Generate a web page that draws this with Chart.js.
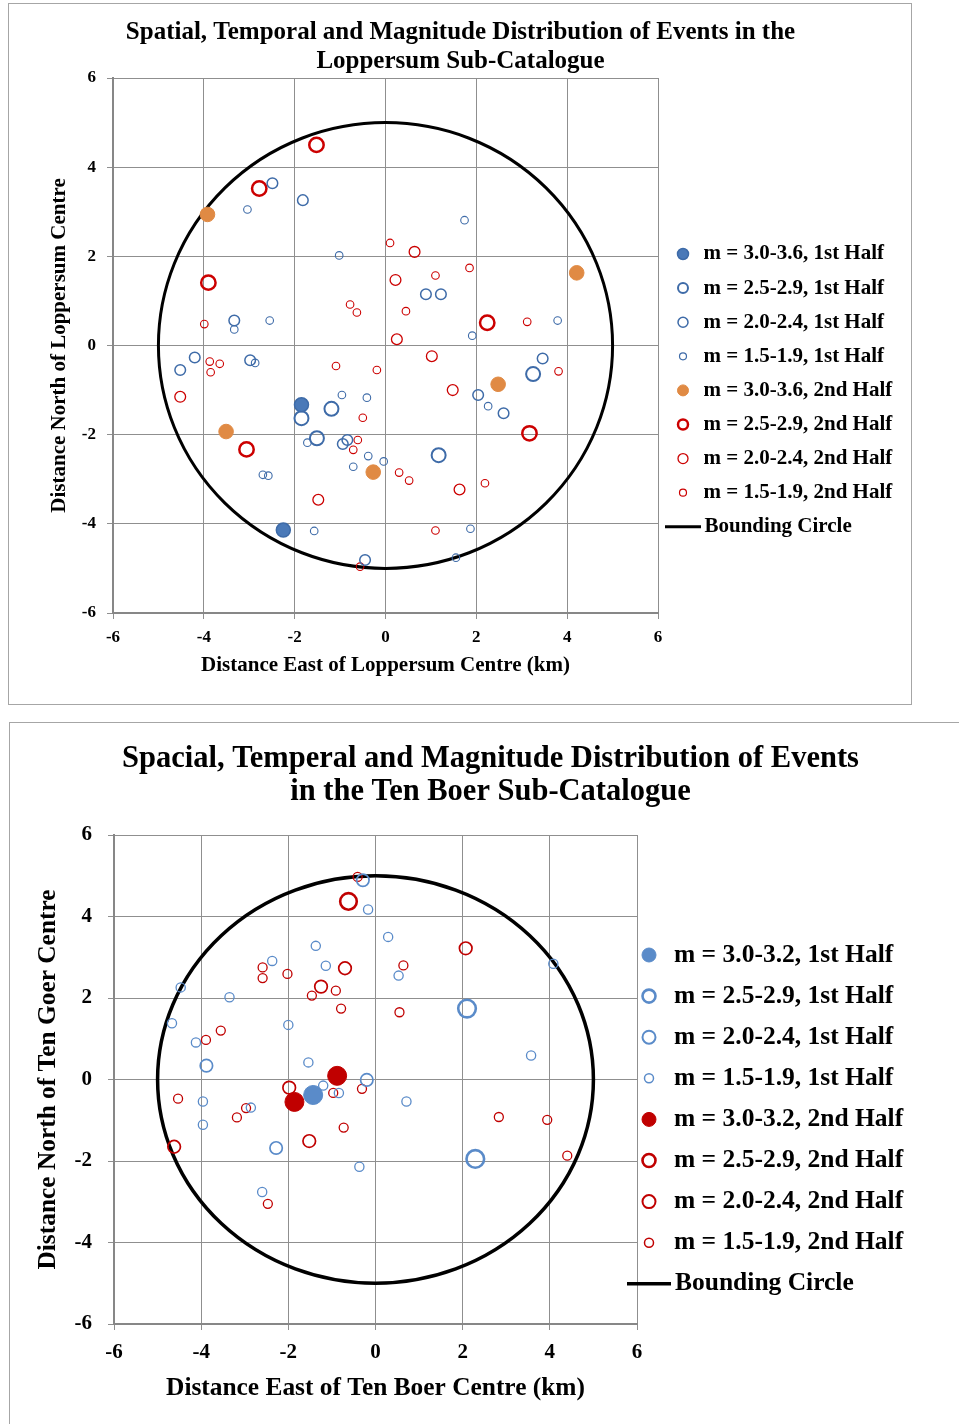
<!DOCTYPE html>
<html>
<head>
<meta charset="utf-8">
<script src="https://cdn.jsdelivr.net/npm/chart.js@4.4.1/dist/chart.umd.min.js"></script>
<style>
  body { margin: 0; width: 959px; height: 1424px; overflow: hidden; background: #fff; position: relative; }
  .frame { position: absolute; border: 1px solid #a6a6a6; box-sizing: border-box; }
  canvas { position: absolute; }
</style>
</head>
<body>
<div class="frame" style="left:8px;top:3px;width:904px;height:702px"></div>
<div class="frame" style="left:9px;top:722px;width:960px;height:720px"></div>
<canvas id="lop" width="901" height="699" style="left:9px;top:4px"></canvas>
<canvas id="tb" width="949" height="701" style="left:10px;top:723px"></canvas>
<script>
const SERIF = '"Liberation Serif", "Times New Roman", serif';
const CIRCLE_R = 5;           // bounding circle radius (km)
const TICK_MIN = -6, TICK_MAX = 6, TICK_STEP = 2;

// --- Loppersum sub-catalogue [east km, north km] ---
const lopTitle = ['Spatial, Temporal and Magnitude Distribution of Events in the', 'Loppersum Sub-Catalogue'];
const lopLabels = [
  'm = 3.0-3.6, 1st Half', 'm = 2.5-2.9, 1st Half', 'm = 2.0-2.4, 1st Half', 'm = 1.5-1.9, 1st Half',
  'm = 3.0-3.6, 2nd Half', 'm = 2.5-2.9, 2nd Half', 'm = 2.0-2.4, 2nd Half', 'm = 1.5-1.9, 2nd Half',
];
const lopBig1 = [[-1.85, -1.33], [-2.25, -4.14]];
const lopMid1 = [[-1.85, -1.63], [-1.19, -1.42], [-1.51, -2.08], [3.25, -0.64], [1.17, -2.46]];
const lopLow1 = [[-2.49, 3.64], [-1.82, 3.26], [-3.33, 0.56], [-4.52, -0.55], [-4.2, -0.27], [-2.98, -0.33],
  [0.89, 1.15], [1.22, 1.15], [-0.94, -2.21], [-0.84, -2.12], [3.46, -0.29], [2.04, -1.11], [2.6, -1.52], [-0.45, -4.81]];
const lopMin1 = [[-3.04, 3.05], [-1.02, 2.02], [1.74, 2.81], [-3.33, 0.36], [-2.55, 0.56], [1.91, 0.22], [3.79, 0.56],
  [-2.87, -0.39], [-0.96, -1.11], [-0.41, -1.17], [-1.72, -2.18], [-0.38, -2.48], [-0.04, -2.6], [-0.71, -2.72],
  [-2.7, -2.9], [-2.58, -2.92], [-1.57, -4.16], [2.26, -1.36], [1.87, -4.11], [1.55, -4.76]];
const lopBig2 = [[-3.92, 2.94], [4.21, 1.63], [2.48, -0.87], [-3.51, -1.93], [-0.27, -2.84]];
const lopMid2 = [[-1.52, 4.5], [-2.78, 3.52], [-3.9, 1.41], [2.24, 0.51], [3.17, -1.97], [-3.06, -2.33]];
const lopLow2 = [[0.64, 2.1], [0.22, 1.47], [0.25, 0.14], [1.02, -0.24], [1.48, -1.0], [1.63, -3.23], [-4.52, -1.15], [-1.48, -3.46]];
const lopMin2 = [[0.1, 2.3], [1.1, 1.57], [1.85, 1.74], [0.45, 0.77], [3.12, 0.53], [3.81, -0.58], [-3.99, 0.48],
  [-0.78, 0.92], [-0.63, 0.74], [-3.87, -0.36], [-3.65, -0.41], [-3.85, -0.6], [-1.09, -0.46], [-0.19, -0.55],
  [-0.5, -1.62], [-0.61, -2.12], [-0.71, -2.34], [0.3, -2.85], [0.52, -3.03], [2.19, -3.09], [1.1, -4.15], [-0.56, -4.96]];

// --- Ten Boer sub-catalogue ---
const tbTitle = ['Spacial, Temperal and Magnitude Distribution of Events', 'in the Ten Boer Sub-Catalogue'];
const tbLabels = [
  'm = 3.0-3.2, 1st Half', 'm = 2.5-2.9, 1st Half', 'm = 2.0-2.4, 1st Half', 'm = 1.5-1.9, 1st Half',
  'm = 3.0-3.2, 2nd Half', 'm = 2.5-2.9, 2nd Half', 'm = 2.0-2.4, 2nd Half', 'm = 1.5-1.9, 2nd Half',
];
const tbBig1 = [[-1.43, -0.38]];
const tbMid1 = [[2.1, 1.74], [2.29, -1.95]];
const tbLow1 = [[-0.29, 4.89], [-3.88, 0.34], [-0.2, -0.01], [-2.28, -1.68]];
const tbMin1 = [[-0.17, 4.17], [-1.37, 3.28], [-2.37, 2.91], [-1.14, 2.79], [0.29, 3.5], [0.53, 2.55], [4.08, 2.84],
  [-4.47, 2.26], [-3.35, 2.02], [-4.67, 1.38], [-2.0, 1.34], [-4.12, 0.91], [-1.54, 0.42], [3.57, 0.59],
  [-1.2, -0.15], [-0.84, -0.33], [-3.96, -0.54], [-3.96, -1.11], [-2.86, -0.69], [0.71, -0.54], [-0.37, -2.14], [-2.6, -2.76]];
const tbBig2 = [[-0.88, 0.09], [-1.86, -0.55]];
const tbMid2 = [[-0.62, 4.37]];
const tbLow2 = [[2.07, 3.22], [-0.7, 2.73], [-1.25, 2.28], [-1.98, -0.2], [-4.62, -1.65], [-1.52, -1.51]];
const tbMin2 = [[-0.41, 4.97], [-2.59, 2.75], [-2.59, 2.49], [-2.02, 2.59], [-1.46, 2.06], [-0.91, 2.18], [-0.79, 1.74],
  [0.64, 2.8], [0.55, 1.65], [-3.55, 1.2], [-3.89, 0.97], [-0.97, -0.33], [-0.31, -0.23], [-4.53, -0.47],
  [-3.18, -0.93], [-2.97, -0.7], [-0.73, -1.18], [-2.47, -3.05], [2.83, -0.92], [3.94, -0.99], [4.4, -1.87]];

// --- bounding circle + title + legend ---
const decor = {
  id: 'decor',
  beforeDatasetsDraw(chart, args, o) {
    const { ctx, scales: { x, y } } = chart;
    const cx = x.getPixelForValue(0), cy = y.getPixelForValue(0);
    const rx = x.getPixelForValue(CIRCLE_R) - cx, ry = cy - y.getPixelForValue(CIRCLE_R);
    ctx.save();
    ctx.beginPath();
    ctx.ellipse(cx, cy, rx, ry, 0, 0, Math.PI * 2);
    ctx.lineWidth = o.circleWidth;
    ctx.strokeStyle = '#000';
    ctx.stroke();
    ctx.restore();
  },
  afterDraw(chart, args, o) {
    const { ctx } = chart;
    ctx.save();
    ctx.fillStyle = '#000';
    ctx.textAlign = 'center';
    ctx.textBaseline = 'middle';
    ctx.font = `bold ${o.titleSize}px ${SERIF}`;
    o.title.forEach((t, i) => ctx.fillText(t, o.titleX, o.titleY[i]));

    const L = o.legend;
    ctx.textAlign = 'left';
    ctx.font = `bold ${L.size}px ${SERIF}`;
    chart.data.datasets.forEach((ds, i) => {
      const yy = L.y0 + i * L.step;
      const m = L.marks[i];
      ctx.beginPath();
      ctx.arc(L.x, yy, m[0], 0, Math.PI * 2);
      if (m[2]) { ctx.fillStyle = ds.backgroundColor; ctx.fill(); }
      ctx.lineWidth = m[1];
      ctx.strokeStyle = ds.borderColor;
      ctx.stroke();
      ctx.fillStyle = '#000';
      ctx.fillText(ds.label, L.textX, yy);
    });
    const ly = L.y0 + chart.data.datasets.length * L.step;
    ctx.beginPath();
    ctx.moveTo(L.lineX[0], ly);
    ctx.lineTo(L.lineX[1], ly);
    ctx.lineWidth = o.circleWidth;
    ctx.strokeStyle = '#000';
    ctx.stroke();
    ctx.fillStyle = '#000';
    ctx.fillText('Bounding Circle', L.textX + 1, ly);
    ctx.restore();
  },
};

function series(label, pts, color, fill, r, w) {
  return {
    label,
    data: pts.map(([x, y]) => ({ x, y })),
    borderColor: color,
    backgroundColor: fill || 'rgba(0,0,0,0)',
    pointRadius: r,
    pointBorderWidth: w,
  };
}

function axis(title, o, horizontal) {
  return {
    type: 'linear', min: TICK_MIN, max: TICK_MAX,
    ticks: { stepSize: TICK_STEP, color: '#000', padding: o.tickPad, font: { family: SERIF, size: o.tick, weight: 'bold' } },
    grid: { color: '#8f8f8f', lineWidth: 1, tickLength: 6, tickColor: '#8f8f8f' },
    border: { color: '#878787', width: 2 },
    title: {
      display: true, text: title, color: '#000',
      font: { family: SERIF, size: o.axisTitle, weight: 'bold' },
      padding: horizontal ? { top: 0, bottom: o.titlePad } : { top: o.titlePad, bottom: 0 },
    },
    afterFit(s) { if (horizontal) s.height = o.size; else s.width = o.size; },
  };
}

function makeChart(id, datasets, cfg) {
  return new Chart(document.getElementById(id), {
    type: 'scatter',
    data: { datasets },
    options: {
      responsive: false,
      animation: false,
      events: [],
      layout: { padding: { top: cfg.padTop, right: cfg.padRight, left: 0, bottom: 0 } },
      plugins: { legend: { display: false }, tooltip: { enabled: false }, decor: cfg.decor },
      scales: {
        x: axis(cfg.xTitle, cfg.x, true),
        y: axis(cfg.yTitle, cfg.y, false),
      },
    },
    plugins: [decor],
  });
}

// Loppersum colours
const LB = '#3E6BA8', LBF = '#4A79B8', OR = '#E08A44', LR = '#CC0000';
makeChart('lop', [
  series(lopLabels[0], lopBig1, LB, LBF, 7, 1.5),
  series(lopLabels[1], lopMid1, LB, null, 7, 2),
  series(lopLabels[2], lopLow1, LB, null, 5.3, 1.5),
  series(lopLabels[3], lopMin1, LB, null, 3.8, 1.1),
  series(lopLabels[4], lopBig2, OR, OR, 7.3, 1),
  series(lopLabels[5], lopMid2, LR, null, 7.2, 2.5),
  series(lopLabels[6], lopLow2, LR, null, 5.4, 1.3),
  series(lopLabels[7], lopMin2, LR, null, 3.8, 1.1),
], {
  padTop: 74, padRight: 252,
  xTitle: 'Distance East of Loppersum Centre (km)',
  yTitle: 'Distance North of Loppersum Centre',
  x: { size: 90, tick: 17, tickPad: 8, axisTitle: 21, titlePad: 24.4 },
  y: { size: 104, tick: 17, tickPad: 11, axisTitle: 21, titlePad: 38.4 },
  decor: {
    circleWidth: 3, title: lopTitle, titleSize: 25, titleX: 460.5 - 9, titleY: [29, 58],
    legend: {
      x: 674, y0: 250, step: 34.1, textX: 694.5, size: 21, lineX: [656, 692],
      marks: [[5.5, 1.5, true], [5, 2, false], [5, 1.5, false], [3.5, 1.2, false],
              [5.5, 1, true], [5, 2.5, false], [5, 1.3, false], [3.5, 1.2, false]],
    },
  },
});

// Ten Boer colours
const TB = '#5A8BC9', TR = '#C00000';
makeChart('tb', [
  series(tbLabels[0], tbBig1, TB, TB, 9.5, 1),
  series(tbLabels[1], tbMid1, TB, null, 8.8, 2.6),
  series(tbLabels[2], tbLow1, TB, null, 6.2, 1.7),
  series(tbLabels[3], tbMin1, TB, null, 4.6, 1.3),
  series(tbLabels[4], tbBig2, TR, TR, 9.5, 1),
  series(tbLabels[5], tbMid2, TR, null, 8.3, 2.6),
  series(tbLabels[6], tbLow2, TR, null, 6.3, 1.7),
  series(tbLabels[7], tbMin2, TR, null, 4.5, 1.3),
], {
  padTop: 112, padRight: 322,
  xTitle: 'Distance East of Ten Boer Centre (km)',
  yTitle: 'Distance North of Ten Goer Centre',
  x: { size: 100, tick: 21, tickPad: 10, axisTitle: 25.4, titlePad: 20.8 },
  y: { size: 104, tick: 21, tickPad: 16, axisTitle: 25.4, titlePad: 22.8 },
  decor: {
    circleWidth: 3.5, title: tbTitle, titleSize: 30.5, titleX: 480.5, titleY: [36, 69],
    legend: {
      x: 639, y0: 232, step: 41.1, textX: 664, size: 25.5, lineX: [617, 661],
      marks: [[7, 1, true], [6.5, 2.6, false], [6.5, 2, false], [4.5, 1.5, false],
              [7, 1, true], [6.5, 2.6, false], [6.5, 2, false], [4.5, 1.5, false]],
    },
  },
});
</script>
</body>
</html>
